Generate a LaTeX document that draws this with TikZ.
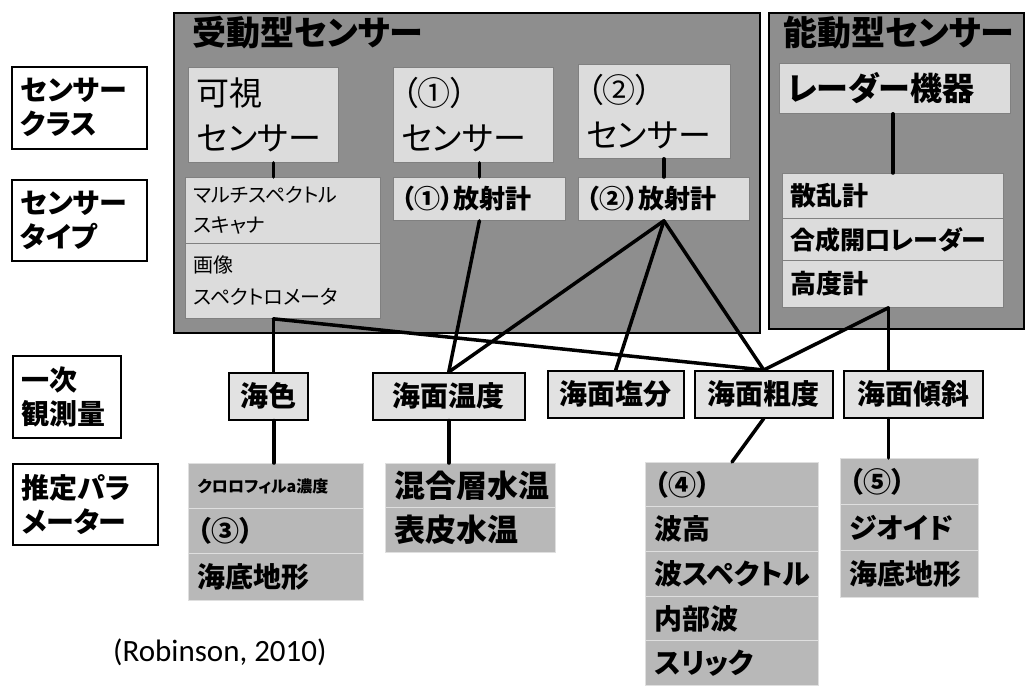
\documentclass[tikz,border=0pt]{standalone}
\usepackage{fontspec}
\setmainfont{Noto Sans CJK JP}[RawFeature=+palt]
\newfontfamily\rob{Carlito}
\usetikzlibrary{calc}
\definecolor{panelg}{HTML}{8E8E8E}
\definecolor{boxg}{HTML}{DCDCDC}
\definecolor{obsg}{HTML}{E2E2E2}
\definecolor{estg}{HTML}{B8B8B8}
\newcommand\bx[8]{\node[#2,anchor=north west,minimum width=#5pt,minimum height=#6pt,text width=#7pt] (#1) at (#3,#4) {#8};}
\newcommand\fs[2]{\fontsize{#1}{#2}\selectfont}
\begin{document}
\begin{tikzpicture}[x=1pt,y=-1pt,
  panel/.style={draw=black,line width=1.5pt,fill=panelg,inner sep=0pt},
  ttl/.style={font=\bfseries\fs{34}{38},text=black,inner sep=0pt,anchor=west},
  inb/.style={draw=black!50,line width=0.8pt,fill=boxg,inner xsep=8pt,inner ysep=0pt,align=left},
  lab/.style={draw=black,line width=1.5pt,fill=white,inner xsep=9pt,inner ysep=0pt,align=left,font=\bfseries\fs{28}{34}},
  obs/.style={draw=black,line width=1.5pt,fill=obsg,inner xsep=4pt,inner ysep=0pt,align=center,font=\bfseries\fs{28}{32}},
  est/.style={draw=white!55!estg,line width=1pt,fill=estg,inner xsep=9pt,inner ysep=0pt,align=left,font=\bfseries\fs{28}{32}},
  conn/.style={line width=3.5pt,line cap=round}]
\useasboundingbox (0,0) rectangle (1027,686);

% panels
\node[panel,anchor=north west,minimum width=586pt,minimum height=320pt] (pp) at (173,12) {};
\node[panel,anchor=north west,minimum width=255pt,minimum height=316pt] (ap) at (768,12) {};
\node[ttl] (tp) at (192,33) {受動型センサー};
\node[ttl] (ta) at (783,33) {能動型センサー};

% left labels
\bx{l1}{lab}{11}{66}{135}{82}{117}{センサー\\クラス}
\bx{l2}{lab}{11}{179}{135}{81}{117}{センサー\\タイプ}
\bx{l3}{lab}{12}{355}{108}{82}{90}{一次\\観測量}
\bx{l4}{lab}{12}{463}{145}{81}{127}{推定パラ\\メーター}

% sensor class
\bx{ks}{inb,font=\fs{33}{45}}{188}{67}{150}{95}{134}{可視\\センサー}
\bx{s1}{inb,font=\fs{33}{45}}{393}{67}{160}{95}{144}{（①）\\センサー}
\bx{s2}{inb,font=\fs{33}{45}}{578}{64}{152}{94}{136}{（②）\\センサー}
\bx{rd}{inb,font=\bfseries\fs{32}{36}}{779}{63}{231}{50}{215}{レーダー機器}

% sensor type
\bx{mu}{inb,font=\fs{20}{30}}{185}{177}{195}{66}{179}{マルチスペクトル\\スキャナ}
\bx{im}{inb,font=\fs{20}{32}}{185}{243}{195}{75}{179}{画像\\スペクトロメータ}
\bx{r1}{inb,font=\bfseries\fs{26}{30}}{393}{177}{172}{43}{156}{（①）放射計}
\bx{r2}{inb,font=\bfseries\fs{26}{30}}{578}{177}{171}{43}{155}{（②）放射計}
\bx{sc}{inb,font=\bfseries\fs{26}{30}}{782}{173}{221}{45}{205}{散乱計}
\bx{sa}{inb,font=\bfseries\fs{25}{30}}{782}{218}{221}{42}{205}{合成開口レーダー}
\bx{al}{inb,font=\bfseries\fs{26}{30}}{782}{260}{221}{47}{205}{高度計}

% primary observables
\bx{o1}{obs}{228}{372}{79}{47}{71}{海色}
\bx{o2}{obs}{372}{372}{152}{47}{144}{海面温度}
\bx{o3}{obs}{547}{370}{136}{47}{128}{海面塩分}
\bx{o4}{obs}{694}{370}{138}{47}{130}{海面粗度}
\bx{o5}{obs}{843}{370}{139}{47}{131}{海面傾斜}

% estimated parameters
\bx{e31}{est,font=\bfseries\fs{16}{20}}{188}{463}{175}{45}{157}{クロロフィルa濃度}
\bx{e32}{est}{188}{508}{175}{45}{157}{（③）}
\bx{e33}{est}{188}{553}{175}{47}{157}{海底地形}
\bx{et1}{est,font=\bfseries\fs{31}{34}}{385}{463}{170}{44}{152}{混合層水温}
\bx{et2}{est,font=\bfseries\fs{31}{34}}{385}{507}{170}{45}{152}{表皮水温}
\bx{e41}{est}{645}{462}{173}{44}{155}{（④）}
\bx{e42}{est}{645}{506}{173}{45}{155}{波高}
\bx{e43}{est}{645}{551}{173}{45}{155}{波スペクトル}
\bx{e44}{est}{645}{596}{173}{44}{155}{内部波}
\bx{e45}{est}{645}{640}{173}{45}{155}{スリック}
\bx{e51}{est}{840}{458}{138}{46}{120}{（⑤）}
\bx{e52}{est}{840}{504}{138}{46}{120}{ジオイド}
\bx{e53}{est}{840}{550}{138}{47}{120}{海底地形}

\node[anchor=west,inner sep=0pt] (cite) at (113,652) {\rob\fs{31}{36}(Robinson, 2010)};

% connectors
\coordinate (kp) at ($(ks.south west)!0.567!(ks.south east)$);
\coordinate (ip) at ($(im.south west)!0.451!(im.south east)$);
\coordinate (op) at ($(o1.south west)!0.57!(o1.south east)$);
\coordinate (ap) at ($(al.south west)!0.48!(al.south east)$);
\draw[conn] (kp) -- (kp |- mu.north);
\draw[conn] (r1.north) -- (r1.north |- s1.south);
\draw[conn] (r2.north) -- (r2.north |- s2.south);
\draw[conn] (sc.north) -- (sc.north |- rd.south);
\draw[conn] (ip) -- (ip |- o1.north);
\draw[conn] (ip) -- (o4.north);
\draw[conn] (r1.south) -- (o2.north);
\draw[conn] (r2.south) -- (o2.north);
\draw[conn] (r2.south) -- (o3.north);
\draw[conn] (r2.south) -- (o4.north);
\draw[conn] (ap) -- (o4.north);
\draw[conn] (ap) -- (ap |- o5.north);
\draw[conn] (op) -- (op |- e31.north);
\draw[conn] (o2.south) -- (o2.south |- et1.north);
\draw[conn] (o4.south) -- (e41.north);
\draw[conn] (ap |- o5.south) -- (ap |- e51.north);
\end{tikzpicture}
\end{document}
